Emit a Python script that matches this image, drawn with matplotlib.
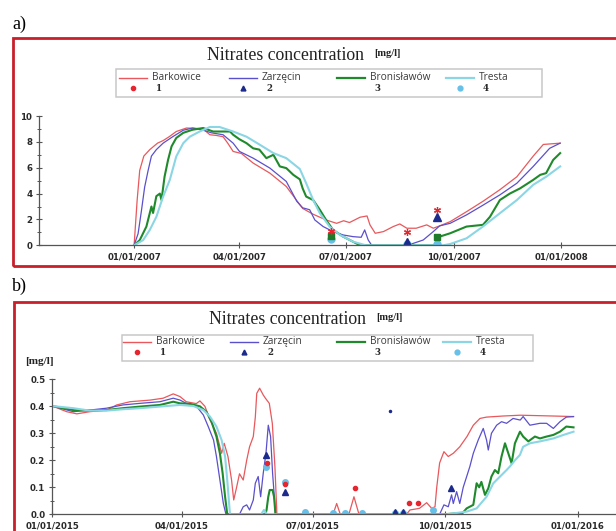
import matplotlib
matplotlib.use('Agg')
import matplotlib.pyplot as plt
import matplotlib.dates as mdates
from matplotlib.lines import Line2D
from matplotlib.patches import Rectangle
from matplotlib.ticker import MultipleLocator, FormatStrFormatter
import numpy as np
import pandas as pd

#======================================================
# a) 2007 - days counted from 01/01/2007, values in mg/l
start_a = pd.Timestamp('2007-01-01')

bark_a_days = [0, 2.6, 4.8, 8.3, 13.4, 20, 24.8, 30, 36, 44.7, 52, 59, 64.7, 70, 76, 80, 84.6, 91.7,
               101.7, 116, 130, 144, 153, 164, 173, 179, 184, 193, 199, 201.5, 206, 213, 221.4, 227,
               233, 241, 250, 255.6, 261, 270, 284, 298, 312.5, 327, 341, 349.6, 364]
bark_a_vals = [0, 3.5, 5.8, 6.9, 7.4, 7.9, 8.1, 8.4, 8.8, 9.07, 9.05, 9.0, 8.55, 8.5, 8.4, 7.9, 7.26, 7.1,
               6.36, 5.58, 4.55, 2.85, 2.4, 1.96, 1.7, 1.9, 1.76, 2.17, 2.27, 1.58, 0.93, 1.06, 1.45, 1.65,
               1.32, 1.32, 1.58, 1.32, 1.5, 1.83, 2.6, 3.4, 4.3, 5.3, 6.9, 7.8, 7.9]

zarz_a_days = [0, 3.4, 6.3, 9, 12, 14.8, 19, 24.8, 33, 42, 50, 59, 66, 76, 84.6, 90, 101.7, 116, 130, 139,
               144, 150, 154.4, 161.5, 170, 178.6, 187, 194, 197, 200, 203, 233, 238.5, 247, 255.6, 261,
               270, 284, 298, 312.5, 327, 341, 355, 364]
zarz_a_vals = [0, 0.9, 2.7, 4.5, 5.8, 6.9, 7.4, 7.9, 8.4, 8.9, 9.07, 8.9, 8.7, 8.55, 7.9, 7.26, 6.74, 5.97,
               4.94, 3.4, 2.9, 2.75, 1.96, 1.45, 1.06, 0.8, 0.67, 0.62, 1.19, 0.41, 0, 0, 0.15, 0.41, 1.06,
               1.5, 1.7, 2.35, 3.1, 3.9, 4.8, 6.1, 7.5, 7.9]

bron_a_days = [0, 4.8, 10.5, 14.8, 16.2, 19, 22, 23.4, 26, 29, 32, 36, 42, 50, 59, 67.5, 76, 82, 84.6, 90,
               96, 101.7, 107, 113, 119, 124.5, 130, 136, 141.6, 144, 147, 153, 158.7, 164, 170, 178.6,
               187, 193, 255.6, 259.8, 261, 270, 284, 298, 304, 312.5, 321, 329.7, 341, 347, 352, 358, 364]
bron_a_vals = [0, 0.4, 1.45, 3.0, 2.5, 3.8, 4.0, 3.5, 5.3, 6.6, 7.65, 8.3, 8.7, 8.94, 9.07, 8.8, 8.8, 8.8,
               8.55, 8.2, 7.9, 7.5, 7.4, 6.74, 7.0, 6.1, 5.97, 5.45, 5.1, 4.4, 3.77, 3.5, 2.74, 1.96, 1.19,
               0.67, 0.28, 0, 0, 0.15, 0.67, 0.93, 1.45, 1.58, 2.2, 3.5, 4.0, 4.4, 5.06, 5.45, 5.58, 6.6, 7.13]

tres_a_days = [0, 7.7, 13.4, 19, 24.8, 30.5, 36, 42, 47.6, 56, 64.7, 73, 84.6, 96, 107, 119, 130, 141.6,
               147, 153, 158.7, 167, 176, 187, 198, 264, 270, 284, 298, 312.5, 327, 341, 352, 364]
tres_a_vals = [0, 0.4, 1.19, 2.2, 3.77, 5.06, 6.87, 7.9, 8.4, 8.8, 9.15, 9.15, 8.8, 8.4, 7.8, 7.13, 6.74,
               5.9, 4.8, 3.5, 2.48, 1.45, 0.8, 0.28, 0, 0, 0.1, 0.54, 1.45, 2.48, 3.5, 4.68, 5.3, 6.1]

# measured points (1..4)
obs1_a_days = [168, 233, 259]
obs1_a_vals = [1.14, 1.06, 2.74]
obs2_a_days = [233, 259]
obs2_a_vals = [0.28, 2.2]
obs3_a_days = [168, 259]
obs3_a_vals = [0.72, 0.67]
obs4_a_days = [168, 233, 259]
obs4_a_vals = [0.47, 0.1, 0.08]

#======================================================
# b) 2015 - days counted from 01/01/2015
start_b = pd.Timestamp('2015-01-01')

bark_b_days = [0, 10, 17, 26, 37.7, 44.7, 54, 68, 77, 84, 88.7, 93, 100, 102.5, 106, 109.5, 114, 117.6,
               119.4, 122, 124.5, 126, 128, 130, 132.6, 135, 137, 139.6, 141, 142, 144, 146.5, 148, 150.7,
               152.8, 154.6, 156, 195, 197.5, 200, 206, 209.5, 213, 246, 248.4, 255, 260, 263.5, 265.8,
               267, 269, 272, 275, 278.5, 283, 288, 292.4, 297, 301.6, 313, 325, 348, 362]
bark_b_vals = [0.401, 0.38, 0.372, 0.38, 0.386, 0.405, 0.417, 0.423, 0.43, 0.446, 0.436, 0.417, 0.41,
               0.42, 0.4, 0.35, 0.3, 0.226, 0.263, 0.214, 0.127, 0.053, 0.1, 0.15, 0.127, 0.2, 0.25, 0.288,
               0.36, 0.448, 0.467, 0.442, 0.43, 0.411, 0.337, 0.177, 0, 0, 0.04, 0, 0, 0.065, 0, 0, 0.016,
               0.022, 0.043, 0.022, 0.028, 0.1, 0.19, 0.232, 0.214, 0.226, 0.25, 0.288, 0.33, 0.355, 0.36,
               0.364, 0.367, 0.364, 0.362]

zarz_b_days = [0, 14.6, 26, 37.7, 49, 61, 74.8, 84, 88.7, 93, 100, 104.9, 108.3, 112, 114, 116.4, 118.8,
               120.6, 130, 132.6, 135, 137, 139.6, 141, 143, 144.7, 146.5, 148.4, 150, 151.6, 153, 154.2,
               155, 269, 272, 275, 277.3, 278.5, 280.8, 283, 285.4, 287.8, 290, 292.4, 295.8, 299.3,
               301.6, 302.8, 305, 308.6, 312, 315.5, 320, 325, 327, 331.7, 338.7, 343.3, 348, 352.6, 357, 362]
zarz_b_vals = [0.401, 0.38, 0.386, 0.393, 0.405, 0.411, 0.417, 0.43, 0.423, 0.411, 0.401, 0.368, 0.325,
               0.275, 0.214, 0.127, 0.04, 0, 0, 0.028, 0.035, 0.016, 0.053, 0.115, 0.14, 0.065, 0.152,
               0.226, 0.33, 0.288, 0.152, 0.065, 0, 0, 0.035, 0.028, 0.072, 0.04, 0.084, 0.04, 0.1, 0.14,
               0.177, 0.226, 0.275, 0.318, 0.275, 0.238, 0.3, 0.33, 0.343, 0.337, 0.355, 0.349, 0.362,
               0.33, 0.337, 0.337, 0.318, 0.343, 0.36, 0.362]

bron_b_days = [0, 14.6, 26, 37.7, 49, 61, 74.8, 84, 88.7, 95.6, 102.5, 107, 110.6, 114, 116.4, 118.3, 120,
               121.5, 148, 148.8, 150, 151, 153, 154, 155, 271.5, 285, 287.8, 292.4, 294.7, 296.5, 298,
               300.5, 302.8, 305, 307.4, 309.7, 312, 314.4, 316.7, 319, 321.3, 324.8, 327, 330.6, 335.2,
               338.7, 343.3, 348, 352.6, 357, 362]
bron_b_vals = [0.401, 0.386, 0.384, 0.386, 0.393, 0.399, 0.405, 0.417, 0.411, 0.409, 0.4, 0.38, 0.343,
               0.288, 0.226, 0.152, 0.065, 0, 0, 0.016, 0.065, 0.09, 0.09, 0.065, 0, 0, 0.005, 0.022, 0.035,
               0.115, 0.1, 0.12, 0.072, 0.096, 0.14, 0.164, 0.152, 0.214, 0.263, 0.226, 0.189, 0.263, 0.306,
               0.288, 0.27, 0.288, 0.281, 0.288, 0.294, 0.306, 0.325, 0.322]

tres_b_days = [0, 14.6, 26, 37.7, 49, 61, 74.8, 88.7, 98, 104.9, 109.5, 114, 117.6, 120, 121.5, 123.4, 145,
               147, 149, 274, 287.8, 294.7, 301.6, 306.3, 311, 315.5, 317.8, 321.3, 324.8, 327, 331.7,
               338.7, 348, 355, 362]
tres_b_vals = [0.401, 0.393, 0.384, 0.384, 0.389, 0.393, 0.399, 0.405, 0.401, 0.386, 0.362, 0.325, 0.275,
               0.214, 0.127, 0, 0, 0.016, 0, 0, 0.01, 0.022, 0.065, 0.115, 0.14, 0.164, 0.177, 0.2, 0.22,
               0.25, 0.263, 0.27, 0.281, 0.294, 0.306]

obs1_b_days = [148.8, 161.6, 210, 248, 254]
obs1_b_vals = [0.189, 0.112, 0.099, 0.043, 0.043]
obs2_b_days = [148.4, 161.6, 238, 243.3, 277]
obs2_b_vals = [0.22, 0.081, 0.01, 0.01, 0.099]
obs2_b_stray_days = [234.5]
obs2_b_stray_vals = [0.384]
obs4_b_days = [148.4, 161.6, 175.5, 195, 203, 214.8, 238, 243.8, 264.6]
obs4_b_vals = [0.174, 0.121, 0.007, 0.006, 0.006, 0.006, 0.006, 0.006, 0.016]

stations = ['Barkowice', 'Zarzęcin', 'Bronisławów', 'Tresta']
obs_labels = ['1', '2', '3', '4']

#======================================================
c_red = '#e8585c'
c_blue = '#5a50cc'
c_green = '#1f8a2c'
c_cyan = '#8ad6e4'
c_red_m = '#e5262f'
c_blue_m = '#1c2a8c'
c_green_m = '#1f7a2a'
c_cyan_m = '#67c0e8'
frame_col = '#c81f2a'
tick_col = '#2a2a2a'

W, H = 616.0, 531.0


def fx(px):
    return px / W


def fy(py):
    return 1 - py / H


def to_dates(start, days):
    return start + pd.to_timedelta(np.array(days, dtype=float), unit='D')


def style_axes(ax):
    for s in ['top', 'right']:
        ax.spines[s].set_visible(False)
    for s in ['left', 'bottom']:
        ax.spines[s].set_color('#555555')
        ax.spines[s].set_linewidth(0.9)
    ax.tick_params(axis='both', which='major', direction='inout', length=4, width=0.8,
                   colors='#555555', labelcolor=tick_col, labelsize=6.2, pad=3)
    ax.tick_params(axis='y', which='minor', direction='inout', length=3, width=0.7, colors='#555555')
    ax.xaxis.set_major_formatter(mdates.DateFormatter('%m/%d/%Y'))
    for lab in ax.get_xticklabels() + ax.get_yticklabels():
        lab.set_fontweight('bold')


def draw_key(fig, box, cols, row1, row2):
    # box = (left, top, right, bottom) in pixels
    l, t, r, b = box
    fig.patches.append(Rectangle((fx(l), fy(b)), fx(r) - fx(l), (b - t) / H, transform=fig.transFigure,
                                 fill=False, edgecolor='#c8c8c8', lw=1.1))
    line_cols = [c_red, c_blue, c_green, c_cyan]
    line_w = [1.0, 1.0, 1.6, 1.6]
    mk = [('o', c_red_m, 3), ('^', c_blue_m, 3.5), (None, c_green_m, 0), ('o', c_cyan_m, 3.5)]
    for i, x0 in enumerate(cols):
        fig.add_artist(Line2D([fx(x0), fx(x0 + 28)], [fy(row1), fy(row1)], transform=fig.transFigure,
                              color=line_cols[i], lw=line_w[i]))
        fig.text(fx(x0 + 33), fy(row1), stations[i], family=['Open Sans', 'DejaVu Sans'], fontsize=7.3,
                 color='#3a3a3a', va='center', ha='left')
        if mk[i][0] is not None:
            fig.add_artist(Line2D([fx(x0 + 14)], [fy(row2)], transform=fig.transFigure, ls='none',
                                  marker=mk[i][0], color=mk[i][1], ms=mk[i][2]))
        fig.text(fx(x0 + 40), fy(row2), obs_labels[i], family='DejaVu Serif', fontsize=6.2,
                 fontweight='bold', color='#2a2a2a', va='center', ha='center')


fig = plt.figure(figsize=(6.16, 5.31), dpi=100)

# red frames round both panels
fig.patches.append(Rectangle((fx(13), fy(266)), 620 / W, 228 / H, transform=fig.transFigure,
                             fill=False, edgecolor=frame_col, lw=2.0))
fig.patches.append(Rectangle((fx(14), fy(540)), 620 / W, 238 / H, transform=fig.transFigure,
                             fill=False, edgecolor=frame_col, lw=2.0))

fig.text(fx(12), fy(24), 'a)', family='Liberation Serif', fontsize=13, va='center', ha='left')
fig.text(fx(12), fy(286), 'b)', family='Liberation Serif', fontsize=13, va='center', ha='left')

#======================================================
# panel a
ax1 = fig.add_axes([fx(39.3), fy(245.3), (W - 39.3) / W, 129.3 / H])
ax1.plot(to_dates(start_a, bark_a_days), bark_a_vals, color=c_red, lw=0.9)
ax1.plot(to_dates(start_a, zarz_a_days), zarz_a_vals, color=c_blue, lw=0.9)
ax1.plot(to_dates(start_a, bron_a_days), bron_a_vals, color=c_green, lw=1.5)
ax1.plot(to_dates(start_a, tres_a_days), tres_a_vals, color=c_cyan, lw=1.5)
ax1.plot(to_dates(start_a, obs4_a_days), obs4_a_vals, ls='none', marker='o', ms=5, color=c_cyan_m)
ax1.plot(to_dates(start_a, obs3_a_days), obs3_a_vals, ls='none', marker='s', ms=4.5, color=c_green_m)
ax1.plot(to_dates(start_a, obs2_a_days), obs2_a_vals, ls='none', marker='^', ms=5.5, color=c_blue_m)
ax1.plot(to_dates(start_a, obs1_a_days), obs1_a_vals, ls='none', marker=(6, 2, 0), ms=5, mew=0.9,
         color=c_red_m)
ax1.set_ylim(0, 10)
ax1.set_xlim(start_a - pd.Timedelta(days=81), start_a + pd.Timedelta(days=411.7))
ax1.set_yticks([0, 2, 4, 6, 8, 10])
ax1.yaxis.set_minor_locator(MultipleLocator(1))
ax1.set_xticks(pd.to_datetime(['2007-01-01', '2007-04-01', '2007-07-01', '2007-10-01', '2008-01-01']))
style_axes(ax1)

fig.text(fx(207), fy(55), 'Nitrates concentration', family='Liberation Serif', fontsize=12.8,
         va='center', ha='left', color='#222222')
fig.text(fx(374), fy(54), '[mg/l]', family='Liberation Serif', fontsize=7.5, fontweight='bold',
         va='center', ha='left', color='#222222')
draw_key(fig, (116, 69, 542, 96.5), [119, 229, 337, 446], 77.7, 88.3)

#======================================================
# panel b
ax2 = fig.add_axes([fx(52.3), fy(514.3), (W - 52.3) / W, 135 / H])
ax2.plot(to_dates(start_b, bark_b_days), bark_b_vals, color=c_red, lw=0.9)
ax2.plot(to_dates(start_b, zarz_b_days), zarz_b_vals, color=c_blue, lw=0.9)
ax2.plot(to_dates(start_b, bron_b_days), bron_b_vals, color=c_green, lw=1.5)
ax2.plot(to_dates(start_b, tres_b_days), tres_b_vals, color=c_cyan, lw=1.5)
ax2.plot(to_dates(start_b, obs4_b_days), obs4_b_vals, ls='none', marker='o', ms=4, color=c_cyan_m)
ax2.plot(to_dates(start_b, obs2_b_days), obs2_b_vals, ls='none', marker='^', ms=4, color=c_blue_m)
ax2.plot(to_dates(start_b, obs2_b_stray_days), obs2_b_stray_vals, ls='none', marker='o', ms=1.5,
         color=c_blue_m)
ax2.plot(to_dates(start_b, obs1_b_days), obs1_b_vals, ls='none', marker='o', ms=3, color=c_red_m)
ax2.set_ylim(0, 0.5)
ax2.set_xlim(start_b, start_b + pd.Timedelta(days=391.5))
ax2.set_yticks([0, 0.1, 0.2, 0.3, 0.4, 0.5])
ax2.yaxis.set_minor_locator(MultipleLocator(0.05))
ax2.yaxis.set_major_formatter(FormatStrFormatter('%.1f'))
ax2.set_xticks(pd.to_datetime(['2015-01-01', '2015-04-01', '2015-07-01', '2015-10-01', '2016-01-01']))
style_axes(ax2)

fig.text(fx(209), fy(319), 'Nitrates concentration', family='Liberation Serif', fontsize=12.8,
         va='center', ha='left', color='#222222')
fig.text(fx(376), fy(318), '[mg/l]', family='Liberation Serif', fontsize=7.5, fontweight='bold',
         va='center', ha='left', color='#222222')
fig.text(fx(39), fy(362), '[mg/l]', family='Liberation Serif', fontsize=8, fontweight='bold',
         va='center', ha='center', color='#222222')
draw_key(fig, (122, 335, 533, 360.5), [123, 230, 337, 443], 341.7, 352.3)

fig.savefig('out.png', dpi=100)
